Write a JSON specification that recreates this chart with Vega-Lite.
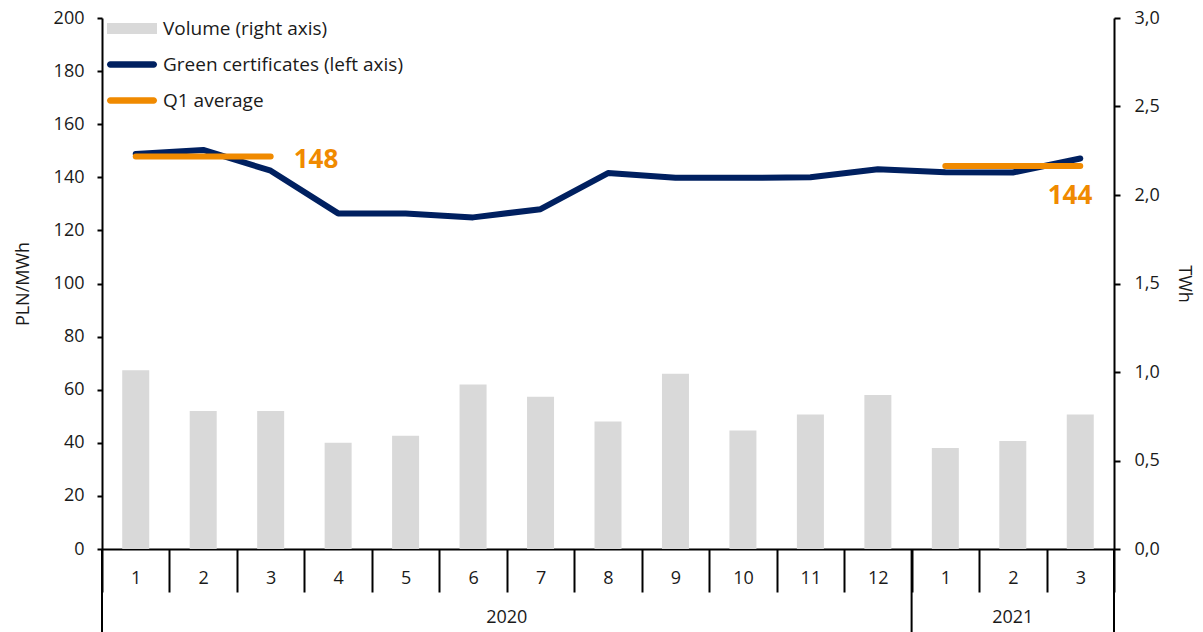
{
  "$schema": "https://vega.github.io/schema/vega-lite/v6.json",
  "width": 1012,
  "height": 531,
  "autosize": {"type": "none"},
  "padding": {"left": 102, "top": 18, "right": 89, "bottom": 83},
  "background": "white",
  "config": {
    "font": "Open Sans",
    "view": {"stroke": null},
    "axis": {
      "labelFont": "Open Sans",
      "titleFont": "Open Sans",
      "labelColor": "#1a1a1a",
      "titleColor": "#1a1a1a",
      "labelFontSize": 18,
      "titleFontSize": 18,
      "titleFontWeight": "normal",
      "domainColor": "#000000",
      "tickColor": "#000000",
      "domainWidth": 2,
      "tickWidth": 2,
      "grid": false
    }
  },
  "datasets": {
    "monthly": [
      {"period": "2020-01", "year": "2020", "month": 1, "price": 148.8, "volume": 1.01},
      {"period": "2020-02", "year": "2020", "month": 2, "price": 150.3, "volume": 0.78},
      {"period": "2020-03", "year": "2020", "month": 3, "price": 142.5, "volume": 0.78},
      {"period": "2020-04", "year": "2020", "month": 4, "price": 126.4, "volume": 0.60},
      {"period": "2020-05", "year": "2020", "month": 5, "price": 126.4, "volume": 0.64},
      {"period": "2020-06", "year": "2020", "month": 6, "price": 124.9, "volume": 0.93},
      {"period": "2020-07", "year": "2020", "month": 7, "price": 128.0, "volume": 0.86},
      {"period": "2020-08", "year": "2020", "month": 8, "price": 141.6, "volume": 0.72},
      {"period": "2020-09", "year": "2020", "month": 9, "price": 139.8, "volume": 0.99},
      {"period": "2020-10", "year": "2020", "month": 10, "price": 139.8, "volume": 0.67},
      {"period": "2020-11", "year": "2020", "month": 11, "price": 140.0, "volume": 0.76},
      {"period": "2020-12", "year": "2020", "month": 12, "price": 143.0, "volume": 0.87},
      {"period": "2021-01", "year": "2021", "month": 1, "price": 141.9, "volume": 0.57},
      {"period": "2021-02", "year": "2021", "month": 2, "price": 141.8, "volume": 0.61},
      {"period": "2021-03", "year": "2021", "month": 3, "price": 147.1, "volume": 0.76}
    ],
    "q1": [
      {"period": "2020-01", "year": "2020", "avg": 147.8},
      {"period": "2020-02", "year": "2020", "avg": 147.8},
      {"period": "2020-03", "year": "2020", "avg": 147.8},
      {"period": "2021-01", "year": "2021", "avg": 144.3},
      {"period": "2021-02", "year": "2021", "avg": 144.3},
      {"period": "2021-03", "year": "2021", "avg": 144.3}
    ],
    "q1labels": [
      {"period": "2020-03", "avg": 147.8, "label": "148"},
      {"period": "2021-03", "avg": 144.3, "label": "144"}
    ]
  },
  "encoding": {
    "x": {
      "field": "period",
      "type": "ordinal",
      "scale": {"paddingInner": 0, "paddingOuter": 0},
      "axis": {
        "title": null,
        "labelAngle": 0,
        "tickBand": "extent",
        "tickSize": 43,
        "labelPadding": -14,
        "labelBaseline": "middle",
        "labelExpr": "toNumber(split(datum.value, '-')[1])"
      }
    }
  },
  "layer": [
    {
      "data": {"name": "monthly"},
      "mark": {"type": "bar", "size": 27},
      "encoding": {
        "y": {
          "field": "volume",
          "type": "quantitative",
          "scale": {"domain": [0, 3]},
          "axis": {
            "orient": "right",
            "title": "TWh",
            "values": [0, 0.5, 1, 1.5, 2, 2.5, 3],
            "labelExpr": "replace(format(datum.value, '.1f'), '.', ',')",
            "tickSize": 6,
            "labelPadding": 14,
            "titlePadding": 15
          }
        },
        "color": {
          "datum": "Volume (right axis)",
          "type": "nominal",
          "scale": {
            "domain": ["Volume (right axis)", "Green certificates (left axis)", "Q1 average"],
            "range": ["#d9d9d9", "#002060", "#f08a00"]
          },
          "legend": {
            "title": null,
            "orient": "none",
            "legendX": 5,
            "legendY": -14.5,
            "direction": "vertical",
            "padding": 0,
            "symbolSize": 2500,
            "rowPadding": 1,
            "labelFont": "Open Sans",
            "labelFontSize": 19,
            "labelColor": "#1a1a1a",
            "labelOffset": 6,
            "labelLimit": 400,
            "encode": {
              "symbols": {
                "update": {
                  "shape": {"signal": "datum.value === 'Volume (right axis)' ? 'M-1,-0.22H1V0.22H-1Z' : 'M-0.87,-0.13H0.87A0.13,0.13 0 0 1 0.87,0.13H-0.87A0.13,0.13 0 0 1 -0.87,-0.13Z'"},
                  "fill": {"scale": "color", "field": "value"},
                  "stroke": {"value": "transparent"},
                  "strokeWidth": {"value": 0},
                  "opacity": {"value": 1}
                }
              }
            }
          }
        }
      }
    },
    {
      "layer": [
        {
          "data": {"name": "monthly"},
          "mark": {"type": "line", "strokeWidth": 6, "strokeJoin": "round", "strokeCap": "round"},
          "encoding": {
            "y": {
              "field": "price",
              "type": "quantitative",
              "scale": {"domain": [0, 200]},
              "axis": {
                "orient": "left",
                "title": "PLN/MWh",
                "values": [0, 20, 40, 60, 80, 100, 120, 140, 160, 180, 200],
                "tickSize": 5,
                "labelPadding": 13,
                "titlePadding": 21
              }
            },
            "color": {"datum": "Green certificates (left axis)", "type": "nominal"}
          }
        },
        {
          "data": {"name": "q1"},
          "mark": {"type": "line", "strokeWidth": 6, "strokeCap": "round"},
          "encoding": {
            "y": {"field": "avg", "type": "quantitative"},
            "detail": {"field": "year"},
            "color": {"datum": "Q1 average", "type": "nominal"}
          }
        },
        {
          "data": {"name": "q1labels"},
          "transform": [{"filter": "datum.period == '2020-03'"}],
          "mark": {"type": "text", "align": "left", "baseline": "middle", "dx": 23, "dy": 3, "fontSize": 26, "fontWeight": "bold", "color": "#f08a00"},
          "encoding": {
            "y": {"field": "avg", "type": "quantitative"},
            "text": {"field": "label"}
          }
        },
        {
          "data": {"name": "q1labels"},
          "transform": [{"filter": "datum.period == '2021-03'"}],
          "mark": {"type": "text", "align": "right", "baseline": "middle", "dx": 12, "dy": 30, "fontSize": 26, "fontWeight": "bold", "color": "#f08a00"},
          "encoding": {
            "y": {"field": "avg", "type": "quantitative"},
            "text": {"field": "label"}
          }
        },
        {
          "data": {"name": "monthly"},
          "transform": [{"filter": "datum.month == 1"}],
          "mark": {"type": "rule", "color": "#000000", "strokeWidth": 2},
          "encoding": {
            "x": {"field": "period", "type": "ordinal", "bandPosition": 0},
            "y": {"datum": 0, "type": "quantitative"},
            "y2": {"datum": -31.5}
          }
        },
        {
          "data": {"name": "monthly"},
          "transform": [{"filter": "datum.period == '2021-03'"}],
          "mark": {"type": "rule", "color": "#000000", "strokeWidth": 2},
          "encoding": {
            "x": {"field": "period", "type": "ordinal", "bandPosition": 1},
            "y": {"datum": 0, "type": "quantitative"},
            "y2": {"datum": -31.5}
          }
        },
        {
          "data": {"name": "monthly"},
          "transform": [{"filter": "datum.period == '2020-07'"}],
          "mark": {"type": "text", "align": "center", "baseline": "middle", "fontSize": 18, "color": "#1a1a1a"},
          "encoding": {
            "x": {"field": "period", "type": "ordinal", "bandPosition": 0},
            "y": {"datum": -26, "type": "quantitative"},
            "text": {"field": "year"}
          }
        },
        {
          "data": {"name": "monthly"},
          "transform": [{"filter": "datum.period == '2021-02'"}],
          "mark": {"type": "text", "align": "center", "baseline": "middle", "fontSize": 18, "color": "#1a1a1a"},
          "encoding": {
            "x": {"field": "period", "type": "ordinal", "bandPosition": 0.5},
            "y": {"datum": -26, "type": "quantitative"},
            "text": {"field": "year"}
          }
        }
      ]
    }
  ],
  "resolve": {"scale": {"y": "independent"}}
}
